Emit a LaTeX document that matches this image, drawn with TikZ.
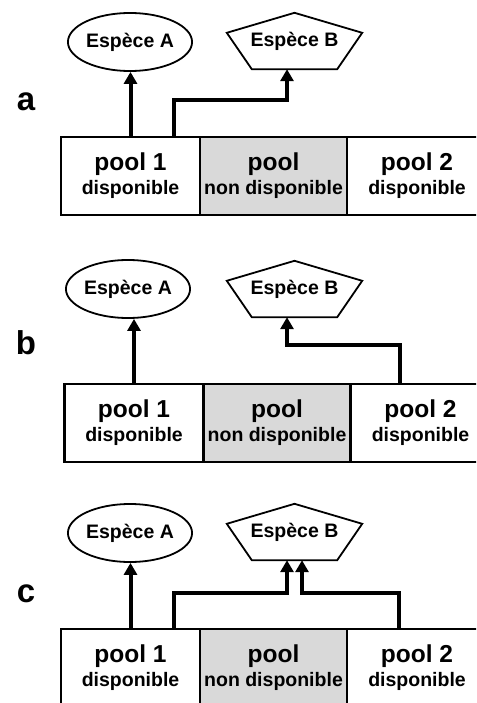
\documentclass[tikz,border=0pt]{standalone}
\usepackage{fontspec}
\setmainfont{Liberation Sans}
\usetikzlibrary{positioning,shapes.geometric,arrows.meta}

\newcommand{\sous}{\fontsize{19.5}{24}\selectfont}
\newcommand{\pentagone}[1]{%
  \draw[line width=1.8pt, line join=miter] (#1.north) -- ([yshift=-20pt]#1.north west)
    -- ([xshift=25pt]#1.south west) -- ([xshift=-25pt]#1.south east)
    -- ([yshift=-20pt]#1.north east) -- cycle;}

\tikzset{
  especeA/.style={ellipse, draw, line width=1.8pt, minimum width=118pt, minimum height=58pt,
    inner sep=0pt, font=\bfseries\fontsize{19.5}{20}\selectfont},
  especeB/.style={rectangle, minimum width=135pt, minimum height=56pt, inner sep=0pt,
    font=\bfseries\fontsize{19.5}{20}\selectfont},
  cellule/.style={rectangle, draw, line width=2.2pt, minimum height=78pt, inner sep=0pt,
    outer sep=0pt, align=center, font=\bfseries\fontsize{24.5}{24}\selectfont},
  fleche/.style={line width=4pt, -{Triangle[length=12pt,width=13pt]}},
  lettre/.style={anchor=base, font=\bfseries\fontsize{33}{33}\selectfont}
}

\begin{document}
\begin{tikzpicture}[x=1pt, y=-1pt]

    \useasboundingbox (0,0) rectangle (476,703);
    \clip (0,0) rectangle (476,703);

    % Panel a
    \node[lettre] (la) at (26,111) {a};
    \node[especeA] (aA) at (130,42) {Espèce A};
    \node[especeB] (aB) at (294.5,41) {Espèce B};
    \pentagone{aB}
    \node[cellule, minimum width=139pt] (a1) at (130.5,176) {pool 1\\{\sous disponible}};
    \node[cellule, minimum width=147pt, fill=gray!30, right=0pt of a1] (a0) {pool\\{\sous non disponible}};
    \node[cellule, minimum width=140pt, right=0pt of a0] (a2) {pool 2\\{\sous disponible}};
    \draw[fleche] (a1.north) -- (a1.north |- aA.south);
    \draw[fleche] ([xshift=43.5pt]a1.north) -- ++(0,-37) -| ([xshift=-7.5pt]aB.south);

    % Panel b
    \node[lettre] (lb) at (26,354) {b};
    \node[especeA] (bA) at (128,289) {Espèce A};
    \node[especeB] (bB) at (294.5,289) {Espèce B};
    \pentagone{bB}
    \node[cellule, minimum width=139pt] (b1) at (134,423) {pool 1\\{\sous disponible}};
    \node[cellule, minimum width=147pt, fill=gray!30, right=0pt of b1] (b0) {pool\\{\sous non disponible}};
    \node[cellule, minimum width=140pt, right=0pt of b0] (b2) {pool 2\\{\sous disponible}};
    \draw[fleche] (b1.north) -- (b1.north |- bA.south);
    \draw[fleche] ([xshift=-21pt]b2.north) -- ++(0,-39) -| ([xshift=-7.5pt]bB.south);

    % Panel c
    \node[lettre] (lc) at (26,602) {c};
    \node[especeA] (cA) at (130,533) {Espèce A};
    \node[especeB] (cB) at (294.5,532) {Espèce B};
    \pentagone{cB}
    \node[cellule, minimum width=139pt] (c1) at (130.5,668) {pool 1\\{\sous disponible}};
    \node[cellule, minimum width=147pt, fill=gray!30, right=0pt of c1] (c0) {pool\\{\sous non disponible}};
    \node[cellule, minimum width=140pt, right=0pt of c0] (c2) {pool 2\\{\sous disponible}};
    \draw[fleche] (c1.north) -- (c1.north |- cA.south);
    \draw[fleche] ([xshift=43.5pt]c1.north) -- ++(0,-36) -| ([xshift=-7.5pt]cB.south);
    \draw[fleche] ([xshift=-18pt]c2.north) -- ++(0,-36) -| ([xshift=7.5pt]cB.south);

\end{tikzpicture}
\end{document}
